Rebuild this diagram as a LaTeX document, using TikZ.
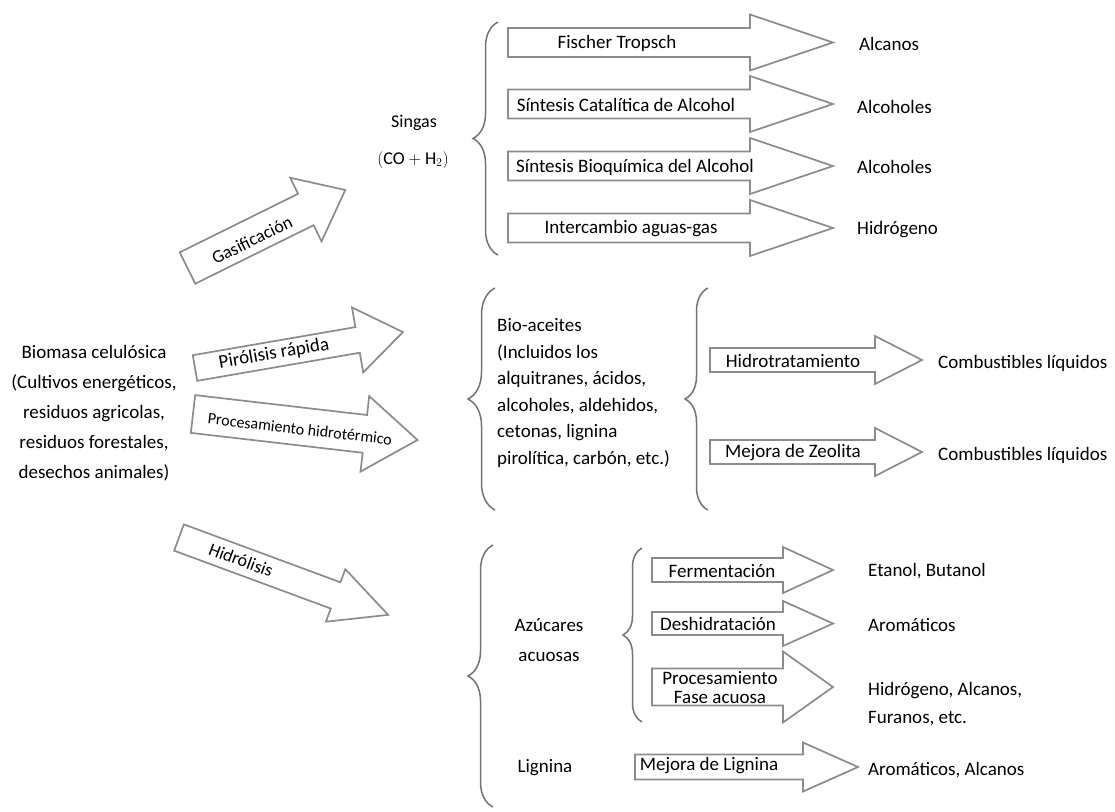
\documentclass[tikz,border=0pt]{standalone}
\usepackage{fontspec}
\setmainfont{Carlito}
\usetikzlibrary{decorations.pathreplacing}

\definecolor{edgegray}{RGB}{140,140,140}
\definecolor{bracegray}{RGB}{115,115,115}

\tikzset{
  barrow/.style={draw=edgegray, line width=1.7pt, fill=white, line join=miter},
  curly/.style={draw=bracegray, line width=1.5pt, decorate,
    decoration={brace, amplitude=#1, aspect=0.5}},
  txt/.style={font=\fontsize{19}{23}\selectfont, inner sep=0pt, align=center},
  small/.style={font=\fontsize{16}{19}\selectfont, inner sep=0pt},
  prod/.style={txt, anchor=west, align=left},
}

% block arrow: tail centre, angle, total length, body half-width, head half-width, head length
\newcommand\blockarr[6]{%
  \begin{scope}[shift={(#1)}, rotate=#2]
    \draw[barrow] (0,-#4) -- ({#3-#6},-#4) -- ({#3-#6},-#5) -- (#3,0)
      -- ({#3-#6},#5) -- ({#3-#6},#4) -- (0,#4) -- cycle;
  \end{scope}}

\begin{document}
\begin{tikzpicture}[x=1pt, y=-1pt]
\useasboundingbox (0,0) rectangle (1115,811);
\fill[white] (0,0) rectangle (1115,811);

% ---------- source ----------
\node[txt, font=\fontsize{19}{30}\selectfont] (biomasa) at (94,413)
  {Biomasa celulósica\\(Cultivos energéticos,\\residuos agricolas,\\residuos forestales,\\desechos animales)};

% ---------- main routes ----------
\blockarr{187.5,268}{26.3}{176}{17.5}{35.5}{44}
\node[txt, font=\fontsize{18}{22}\selectfont, rotate=26.3] (gas) at (252,240) {Gasificación};

\blockarr{195,368}{9.8}{211}{13}{33}{46}
\node[txt, rotate=9.8] (piro) at (274,354) {Pirólisis rápida};

\blockarr{193,414}{-6.6}{226}{19}{38}{53}
\node[small, rotate=-6.6] (hidroterm) at (300,429) {Procesamiento hidrotérmico};

\blockarr{179,537.5}{-20.3}{223}{14}{28}{56}
\node[txt, font=\fontsize{18}{22}\selectfont, rotate=-20.3] (hidrol) at (241,560) {Hidrólisis};

% ---------- gasification branch ----------
\node[txt, font=\fontsize{18}{22}\selectfont] (singas) at (414,123) {Singas};
\node[txt, font=\fontsize{18}{22}\selectfont] (syn) at (413,160) {$(\mathrm{CO}+\mathrm{H}_2)$};
\draw[curly=25] (498,255) -- (498,22);

\blockarr{508,42.5}{0}{325}{14.5}{28}{83}
\blockarr{508,104}{0}{325}{14.5}{28}{83}
\blockarr{508,166}{0}{325}{14.5}{28}{83}
\blockarr{508,228}{0}{325}{14.5}{28}{83}
\node[txt] (ft)   at (617,43)  {Fischer Tropsch};
\node[txt] (sca)  at (626,105) {Síntesis Catalítica de Alcohol};
\node[txt] (sba)  at (635,167) {Síntesis Bioquímica del Alcohol};
\node[txt] (iag)  at (631,229) {Intercambio aguas-gas};
\node[prod] (alc)  at (859,44)  {Alcanos};
\node[prod] (ol1)  at (857,107) {Alcoholes};
\node[prod] (ol2)  at (857,167) {Alcoholes};
\node[prod] (h2)   at (857,230) {Hidrógeno};

% ---------- pyrolysis / hydrothermal branch ----------
\draw[curly=27] (495,510) -- (495,288);
\node[prod, font=\fontsize{19}{26.5}\selectfont] (bio) at (497,393)
  {Bio-aceites\\(Incluidos los\\alquitranes, ácidos,\\alcoholes, aldehidos,\\cetonas, lignina\\pirolítica, carbón, etc.)};
\draw[curly=23] (708,510) -- (708,288);

\blockarr{710,360}{0}{212}{12}{24}{47}
\blockarr{710,452}{0}{212}{12}{24}{47}
\node[txt] (ht) at (793,361) {Hidrotratamiento};
\node[txt] (zeo) at (793,453) {Mejora de Zeolita};
\node[prod] (cl1) at (938,363) {Combustibles líquidos};
\node[prod] (cl2) at (938,455) {Combustibles líquidos};

% ---------- hydrolysis branch ----------
\draw[curly=25] (493,807) -- (493,545);
\node[txt, font=\fontsize{19}{30}\selectfont] (azu) at (549,640) {Azúcares\\acuosas};
\node[txt] (lig) at (545,768) {Lignina};
\draw[curly=19] (642,722) -- (642,548);

\blockarr{652,570}{0}{181}{12}{23}{50}
\blockarr{652,623.5}{0}{181}{11.5}{22.5}{50}
\blockarr{652,687}{0}{181}{18.5}{35.5}{50}
\blockarr{635,767}{0}{223}{12.5}{24.5}{55}
\node[txt] (fer) at (722,571) {Fermentación};
\node[txt] (des) at (718,624) {Deshidratación};
\node[txt, font=\fontsize{19}{19}\selectfont] (fac) at (720,688) {Procesamiento\\Fase acuosa};
\node[txt] (mlig) at (709,766) {Mejora de Lignina};
\node[prod] (etb) at (868,571) {Etanol, Butanol};
\node[prod] (aro) at (868,625) {Aromáticos};
\node[prod, font=\fontsize{19}{28}\selectfont] (haf) at (868,704) {Hidrógeno, Alcanos,\\Furanos, etc.};
\node[prod] (aral) at (868,770) {Aromáticos, Alcanos};
\end{tikzpicture}
\end{document}
